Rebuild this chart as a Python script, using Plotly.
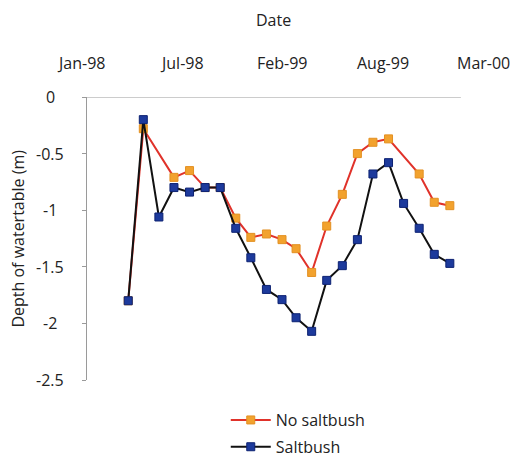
import pandas as pd
import plotly.graph_objects as go

# Monthly sampling dates (Apr-98 .. Jan-00)
dates = [
    "1998-04-05", "1998-05-05", "1998-06-05", "1998-07-05", "1998-08-05", "1998-09-05",
    "1998-10-05", "1998-11-05", "1998-12-05", "1999-01-05", "1999-02-05", "1999-03-05",
    "1999-04-05", "1999-05-05", "1999-06-05", "1999-07-05", "1999-08-05", "1999-09-05",
    "1999-10-05", "1999-11-05", "1999-12-05", "2000-01-05",
]

# Depth of watertable (m); None = no reading that month
no_saltbush = [
    -1.80, -0.28, None, -0.71, -0.65, -0.80, -0.80, -1.07, -1.24, -1.21, -1.26,
    -1.34, -1.55, -1.14, -0.86, -0.50, -0.40, -0.37, None, -0.68, -0.93, -0.96,
]
saltbush = [
    -1.80, -0.20, -1.06, -0.80, -0.84, -0.80, -0.80, -1.16, -1.42, -1.70, -1.79,
    -1.95, -2.07, -1.62, -1.49, -1.26, -0.68, -0.58, -0.94, -1.16, -1.39, -1.47,
]

# Date axis labels: every 200 days from 1 Jan 1998
x_tick_dates = pd.date_range("1998-01-01", periods=5, freq="200D")
x_tick_text = ["Jan-98", "Jul-98", "Feb-99", "Aug-99", "Mar-00"]
y_tick_vals = [0, -0.5, -1, -1.5, -2, -2.5]

# Extent of the drawn top axis line
axis_line_start, axis_line_end = "1998-01-11", "2000-01-27"

FONT = "Open Sans"
TXT = "#222222"
AXIS = "#9a9a9a"

fig = go.Figure()
fig.add_trace(go.Scatter(
    x=dates, y=no_saltbush, name="No saltbush", mode="lines+markers",
    connectgaps=True, legendgroup="a",
    line=dict(color="#e0322a", width=2),
    marker=dict(symbol="square", size=8, color="#f2a22e",
                line=dict(color="#e39022", width=1)),
))
fig.add_trace(go.Scatter(
    x=dates, y=saltbush, name="Saltbush", mode="lines+markers",
    legendgroup="b",
    line=dict(color="#111111", width=2),
    marker=dict(symbol="square", size=8, color="#1d3a9c",
                line=dict(color="#0d2272", width=1)),
))

label_font = dict(family=FONT, size=16, color=TXT)
annotations = []
for d, t in zip(x_tick_dates, x_tick_text):
    annotations.append(dict(x=d, y=1.12, xref="x", yref="paper", text=t,
                            showarrow=False, xanchor="center", yanchor="middle",
                            font=label_font))
for v in y_tick_vals:
    annotations.append(dict(x=-0.077, y=v, xref="paper", yref="y", text=f"{v:g}",
                            showarrow=False, xanchor="center", yanchor="middle",
                            font=label_font))
annotations.append(dict(x=0.478, y=1.272, xref="paper", yref="paper", text="Date",
                        showarrow=False, xanchor="center", yanchor="middle",
                        font=label_font))
annotations.append(dict(x=-0.159, y=0.5, xref="paper", yref="paper",
                        text="Depth of watertable (m)", textangle=-90,
                        showarrow=False, xanchor="center", yanchor="middle",
                        font=label_font))

fig.add_shape(type="line", xref="x", yref="y",
              x0=axis_line_start, x1=axis_line_end, y0=0, y1=0,
              line=dict(color=AXIS, width=1), layer="below")

fig.update_layout(
    width=519, height=458,
    margin=dict(l=81, r=36, t=97, b=78, autoexpand=False),
    paper_bgcolor="white", plot_bgcolor="white",
    font=dict(family=FONT, size=16, color=TXT),
    showlegend=True,
    legend=dict(x=0.435, y=0.12, xref="container", yref="container",
                xanchor="left", yanchor="top",
                bgcolor="rgba(0,0,0,0)", font=dict(size=16),
                traceorder="grouped", tracegroupgap=3, itemwidth=40),
    annotations=annotations,
    xaxis=dict(
        type="date", side="top",
        range=["1998-01-01", "2000-03-11"],
        showline=False, showgrid=False, zeroline=False,
        ticks="", showticklabels=False,
    ),
    yaxis=dict(
        range=[-2.5, 0], tickvals=y_tick_vals,
        anchor="free", position=0.0124,
        showline=True, linecolor=AXIS, linewidth=1,
        ticks="outside", ticklen=4, tickcolor=AXIS,
        showgrid=False, zeroline=False, showticklabels=False,
    ),
)

fig.write_html("out.html")
